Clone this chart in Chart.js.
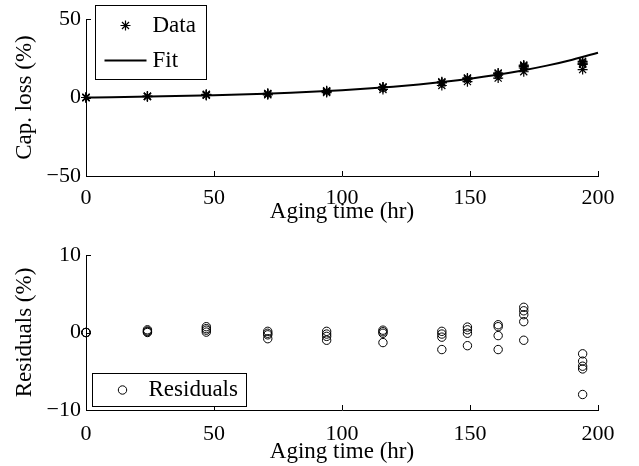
<!DOCTYPE html>
<html>
<head>
<meta charset="utf-8">
<script src="https://cdn.jsdelivr.net/npm/chart.js@4/dist/chart.umd.min.js"></script>
<style>
  body { margin: 0; background: #fff; }
  canvas { display: block; }
</style>
</head>
<body>
<canvas id="capChart" width="639" height="233"></canvas>
<canvas id="resChart" width="639" height="233"></canvas>
<script>
// tempos de envelhecimento (h) e replicatas medidas em cada tempo
const agingHours = [0, 24, 47, 71, 94, 116, 139, 149, 161, 171, 194];
const capLoss = [
  [0, 0, 0, 0],
  [0.9, 0.75, 0.65, 0.55],
  [2.05, 1.8, 1.6, 1.35],
  [2.65, 2.4, 2.2, 1.7],
  [4.3, 3.95, 3.65, 3.15],
  [6.7, 6.5, 6.3, 5.1],
  [10.0, 9.65, 9.25, 7.65],
  [12.5, 12.15, 11.7, 10.1],
  [15.6, 15.35, 14.2, 12.4],
  [20.65, 20.2, 19.7, 18.8, 16.4],
  [23.05, 22.1, 21.45, 21.1, 17.8]
];
const residuals = [
  [0, 0, 0, 0],
  [0.35, 0.2, 0.1, 0.0],
  [0.75, 0.5, 0.3, 0.05],
  [0.15, -0.1, -0.3, -0.8],
  [0.15, -0.2, -0.5, -1.0],
  [0.3, 0.1, -0.1, -1.3],
  [0.15, -0.2, -0.6, -2.2],
  [0.7, 0.35, -0.1, -1.7],
  [1.0, 0.75, -0.4, -2.2],
  [3.25, 2.8, 2.3, 1.4, -1.0],
  [-2.75, -3.7, -4.35, -4.7, -8.0]
];
// curva ajustada
const fitHours = [0, 10, 20, 30, 40, 50, 60, 70, 80, 90, 100, 110, 120, 130, 140, 150, 160, 170, 180, 190, 200];
const fitValues = [0, 0.2, 0.44, 0.72, 1.05, 1.44, 1.89, 2.43, 3.06, 3.8, 4.68, 5.71, 6.92, 8.35, 10.03, 12.0, 14.33, 17.07, 20.29, 24.09, 28.56];

const hourTicks = [0, 50, 100, 150, 200];
const capTicks = [-50, 0, 50];
const resTicks = [-10, 0, 10];

Chart.defaults.font.family = "'Liberation Serif', 'Times New Roman', serif";
Chart.defaults.color = '#000';

function toPoints(groups) {
  const pts = [];
  agingHours.forEach((h, i) => groups[i].forEach(v => pts.push({ x: h, y: v })));
  return pts;
}

// marcas de escala voltadas para dentro (estilo MATLAB)
const innerTicks = {
  id: 'innerTicks',
  afterDraw(chart) {
    const { ctx, chartArea: a, scales: { x, y } } = chart;
    ctx.save();
    ctx.strokeStyle = '#000';
    ctx.lineWidth = 1;
    ctx.beginPath();
    x.ticks.forEach(t => {
      const p = Math.round(x.getPixelForValue(t.value)) + 0.5;
      ctx.moveTo(p, a.bottom);
      ctx.lineTo(p, a.bottom - 5);
    });
    y.ticks.forEach(t => {
      const p = Math.round(y.getPixelForValue(t.value)) + 0.5;
      ctx.moveTo(a.left, p);
      ctx.lineTo(a.left + 5, p);
    });
    ctx.stroke();
    ctx.restore();
  }
};

// legenda em caixa, desenhada dentro do gráfico
const legendBox = {
  id: 'legendBox',
  afterDraw(chart, args, opts) {
    const ctx = chart.ctx;
    const [x0, y0, x1, y1] = opts.box;
    ctx.save();
    ctx.fillStyle = '#fff';
    ctx.fillRect(x0, y0, x1 - x0, y1 - y0);
    ctx.strokeStyle = '#000';
    ctx.lineWidth = 1;
    ctx.strokeRect(x0 + 0.5, y0 + 0.5, x1 - x0, y1 - y0);
    opts.items.forEach(it => {
      const ds = chart.data.datasets[it.dataset];
      ctx.strokeStyle = '#000';
      if (ds.showLine) {
        ctx.lineWidth = ds.borderWidth;
        ctx.beginPath();
        ctx.moveTo(it.x - 21, it.y);
        ctx.lineTo(it.x + 21, it.y);
        ctx.stroke();
      } else {
        ctx.lineWidth = ds.pointBorderWidth;
        ctx.fillStyle = 'rgba(0,0,0,0)';
        Chart.helpers.drawPoint(ctx, {
          pointStyle: ds.pointStyle, radius: ds.pointRadius,
          borderWidth: ds.pointBorderWidth, rotation: 0
        }, it.x, it.y);
      }
      ctx.fillStyle = '#000';
      ctx.font = "23px 'Liberation Serif', serif";
      ctx.textBaseline = 'middle';
      ctx.textAlign = 'left';
      ctx.fillText(ds.label, it.tx, it.y);
    });
    ctx.restore();
  }
};

// sinal de menos tipográfico, como no original
const minusLabel = v => String(v).replace('-', '\u2212');

function axes(yTicks, yMin, yMax, yTitle, xHeight, xPad, xTitlePad) {
  return {
    x: {
      type: 'linear', min: 0, max: 200,
      afterBuildTicks: s => { s.ticks = hourTicks.map(v => ({ value: v })); },
      afterFit: s => { s.height = xHeight; },
      grid: { display: false, drawTicks: false, tickLength: 0 },
      border: { display: true, color: '#000', width: 1 },
      ticks: { color: '#000', font: { size: 22 }, padding: xPad, maxRotation: 0, autoSkip: false },
      title: { display: true, text: 'Aging time (hr)', color: '#000', font: { size: 23 }, padding: { top: 0, bottom: xTitlePad } }
    },
    y: {
      type: 'linear', min: yMin, max: yMax,
      afterBuildTicks: s => { s.ticks = yTicks.map(v => ({ value: v })); },
      afterFit: s => { s.width = 86; },
      grid: { display: false, drawTicks: false, tickLength: 0 },
      border: { display: true, color: '#000', width: 1 },
      ticks: { color: '#000', font: { size: 22 }, padding: 5, autoSkip: false, callback: minusLabel },
      title: { display: true, text: yTitle, color: '#000', font: { size: 23 }, padding: { top: 11, bottom: 0 } }
    }
  };
}

new Chart(document.getElementById('capChart'), {
  type: 'scatter',
  data: {
    datasets: [
      {
        label: 'Data',
        data: toPoints(capLoss),
        pointStyle: 'star',
        pointRadius: 5,
        pointBorderWidth: 1.2,
        pointBorderColor: '#000',
        showLine: false,
        clip: false
      },
      {
        label: 'Fit',
        data: fitHours.map((h, i) => ({ x: h, y: fitValues[i] })),
        showLine: true,
        borderColor: '#000',
        borderWidth: 2,
        pointRadius: 0,
        cubicInterpolationMode: 'monotone',
        clip: false
      }
    ]
  },
  options: {
    responsive: false,
    animation: false,
    devicePixelRatio: 1,
    layout: { padding: { top: 19, right: 41, left: 0, bottom: 0 } },
    scales: axes(capTicks, -50, 50, 'Cap. loss (%)', 57, 9, 7),
    plugins: {
      legend: { display: false },
      tooltip: { enabled: false },
      legendBox: {
        box: [95, 5, 206, 79],
        items: [
          { dataset: 0, x: 125.5, y: 25.5, tx: 152.5 },
          { dataset: 1, x: 125.5, y: 60.5, tx: 152.5 }
        ]
      }
    }
  },
  plugins: [innerTicks, legendBox]
});

new Chart(document.getElementById('resChart'), {
  type: 'scatter',
  data: {
    datasets: [
      {
        label: 'Residuals',
        data: toPoints(residuals),
        pointStyle: 'circle',
        pointRadius: 4.2,
        pointBorderWidth: 1,
        pointBorderColor: '#000',
        pointBackgroundColor: 'rgba(0,0,0,0)',
        showLine: false,
        clip: false
      }
    ]
  },
  options: {
    responsive: false,
    animation: false,
    devicePixelRatio: 1,
    layout: { padding: { top: 22, right: 41, left: 0, bottom: 0 } },
    scales: axes(resTicks, -10, 10, 'Residuals (%)', 56, 11, 0),
    plugins: {
      legend: { display: false },
      tooltip: { enabled: false },
      legendBox: {
        box: [92, 140, 246, 173],
        items: [
          { dataset: 0, x: 122.5, y: 157, tx: 148.5 }
        ]
      }
    }
  },
  plugins: [innerTicks, legendBox]
});
</script>
</body>
</html>
